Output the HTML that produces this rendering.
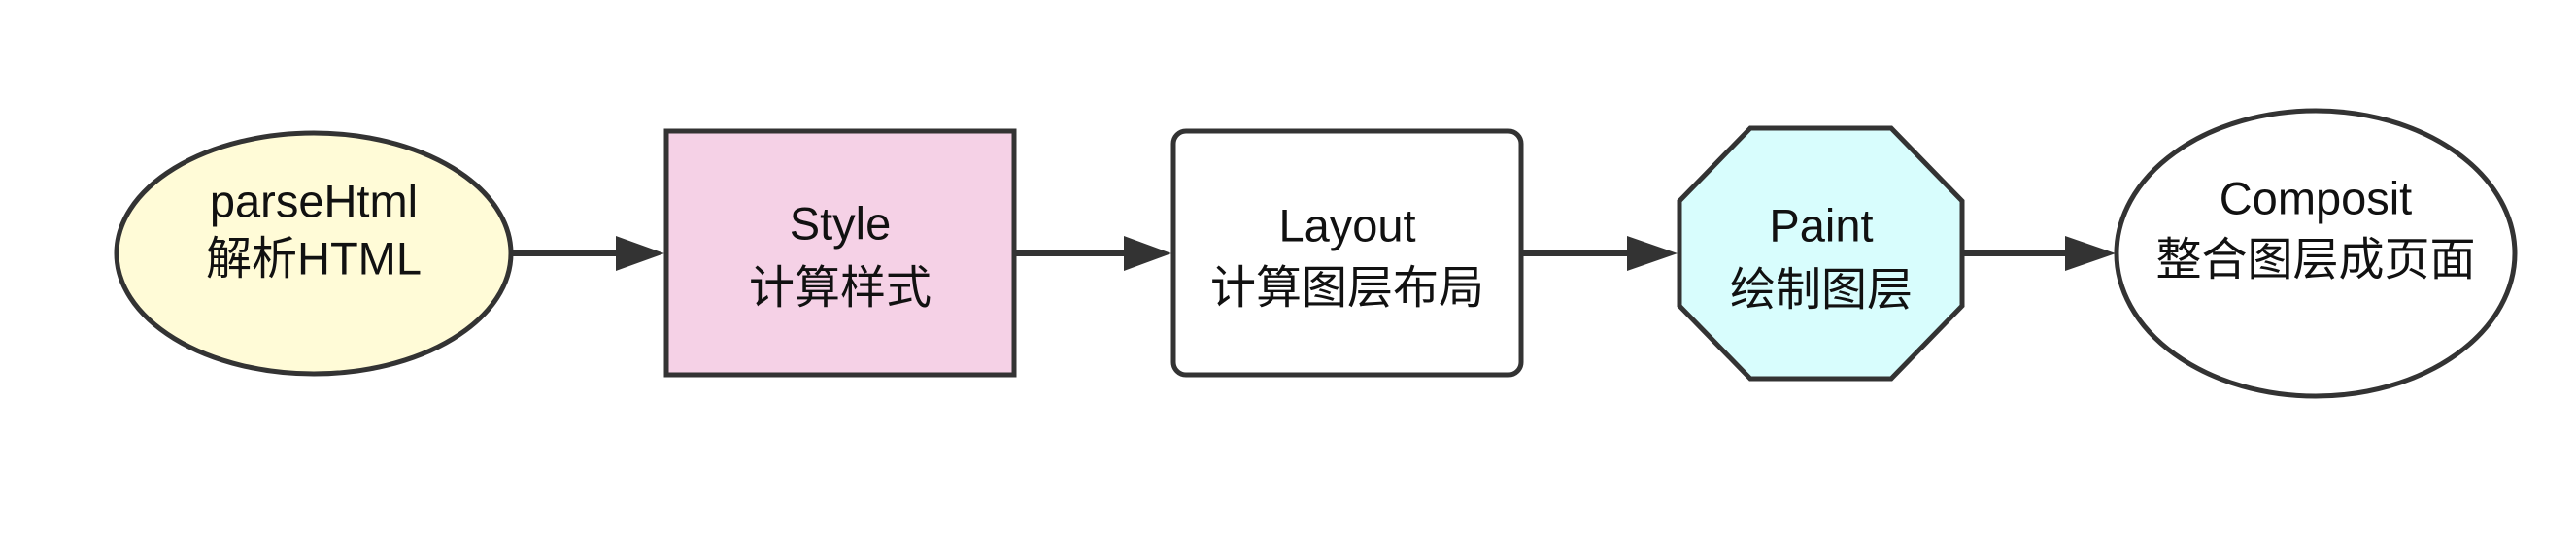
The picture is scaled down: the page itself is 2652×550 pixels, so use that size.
<!DOCTYPE html>
<html><head><meta charset="utf-8"><style>
html,body{margin:0;padding:0;background:#fff;}
svg{display:block;}
text{font-family:"Liberation Sans","Noto Sans CJK SC",sans-serif;font-size:47px;fill:#111;text-anchor:middle;dominant-baseline:middle;}
</style></head><body>
<svg width="2652" height="550" viewBox="0 0 2652 550" xmlns="http://www.w3.org/2000/svg">
<g stroke="#333" stroke-width="5">
<ellipse cx="323" cy="261" rx="203" ry="124" fill="#fffbd7"/>
<rect x="686" y="135" width="358" height="251" fill="#f5d1e6"/>
<rect x="1208" y="135" width="358" height="251" rx="13" fill="#fff"/>
<polygon points="1802,132 1947,132 2020,207 2020,315 1947,390 1802,390 1729,315 1729,207" fill="#d8fdfd"/>
<ellipse cx="2384" cy="261" rx="205" ry="147" fill="#fff"/>
</g>
<g stroke="#333" stroke-width="6">
<line x1="527" y1="261" x2="640" y2="261"/>
<line x1="1046" y1="261" x2="1160" y2="261"/>
<line x1="1568" y1="261" x2="1680" y2="261"/>
<line x1="2022" y1="261" x2="2130" y2="261"/>
</g>
<g fill="#333">
<polygon points="634,243 684,261 634,279"/>
<polygon points="1157,243 1206,261 1157,279"/>
<polygon points="1675,243 1727,261 1675,279"/>
<polygon points="2126,243 2178,261 2126,279"/>
</g>
<text x="323" y="211">parseHtml</text>
<text x="323" y="270">解析HTML</text>
<text x="865" y="234">Style</text>
<text x="865" y="300">计算样式</text>
<text x="1387" y="236">Layout</text>
<text x="1387" y="300">计算图层布局</text>
<text x="1875" y="236">Paint</text>
<text x="1875" y="302">绘制图层</text>
<text x="2384" y="208">Composit</text>
<text x="2384" y="271">整合图层成页面</text>
</svg>
</body></html>
